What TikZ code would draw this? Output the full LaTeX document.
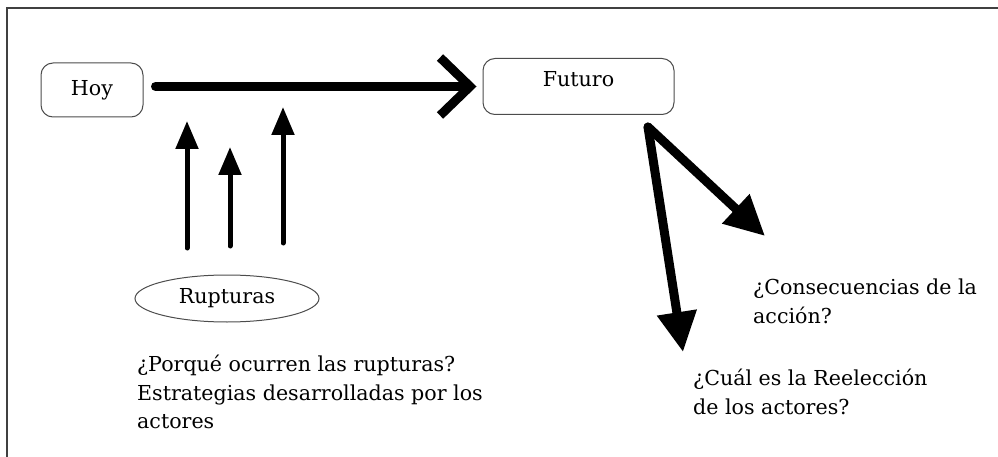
\documentclass[tikz,border=0pt]{standalone}
\usepackage{fontspec}
\setmainfont{DejaVu Serif}
\usetikzlibrary{arrows.meta,shapes.geometric}
\tikzset{%
  >={Triangle[length=28pt,width=22pt]}, % filled tips
  every node/.style={font=\fontsize{20.6}{28.5}\selectfont},%
  frame line/.style={draw=black!75,line width=2pt},%
  round box/.style={draw=black!70,line width=1pt,rounded corners=12pt},%
  main arrow/.style={line width=9pt,line cap=round,
    -{Straight Barb[length=30pt,width=58pt]}},%
  thin arrow/.style={line width=5pt,line cap=round,->},%
  thick arrow/.style={line width=9pt,line cap=round,
    -{Triangle[length=40pt,width=38pt]}},%
  question/.style={anchor=north west,inner sep=0pt,align=left}%
}
\begin{document}
\begin{tikzpicture}[x=1pt,y=-1pt]

%% page and frame

\useasboundingbox (0,0) rectangle (998,457);
\draw[frame line] (998,8) -- (7,8) -- (7,457);

%% boxes

\node[round box,minimum width=102pt,minimum height=54pt] (Hoy) at (92,90) {Hoy};
\node[round box,minimum width=191pt,inner ysep=4pt,text height=24pt,
      text depth=24pt] (Fut) at (578.5,86.5) {Futuro};
\node[draw=black!70,line width=1pt,ellipse,inner sep=0pt,minimum width=184pt,
      minimum height=47pt] (Rup) at (227,298.5) {Rupturas};

%% texts

\node[question] (Q1) at (137,355)
    {¿Porqué ocurren las rupturas?\\Estrategias desarrolladas por los\\actores};
\node[question] (Q2) at (753,279) {¿Consecuencias de la\\acción?};
\node[question] (Q3) at (693,369) {¿Cuál es la Reelección\\de los actores?};

%% arrows

\draw[main arrow,shorten <=12pt,shorten >=6pt] (Hoy.east |- Fut.west) -- (Fut.west);

\coordinate (A1) at (187,248); \coordinate (B1) at (187,121);
\coordinate (A2) at (230,246); \coordinate (B2) at (230,147);
\coordinate (A3) at (283,243); \coordinate (B3) at (283,107);
\draw[thin arrow] (A1) -- (B1);
\draw[thin arrow] (A2) -- (B2);
\draw[thin arrow] (A3) -- (B3);

\coordinate (F0) at (648,127); % fork below Futuro
\coordinate (C1) at (765,236);
\coordinate (C2) at (683,352);
\draw[thick arrow] (F0) -- (C1);
\draw[thick arrow] (F0) -- (C2);

\end{tikzpicture}
\end{document}
